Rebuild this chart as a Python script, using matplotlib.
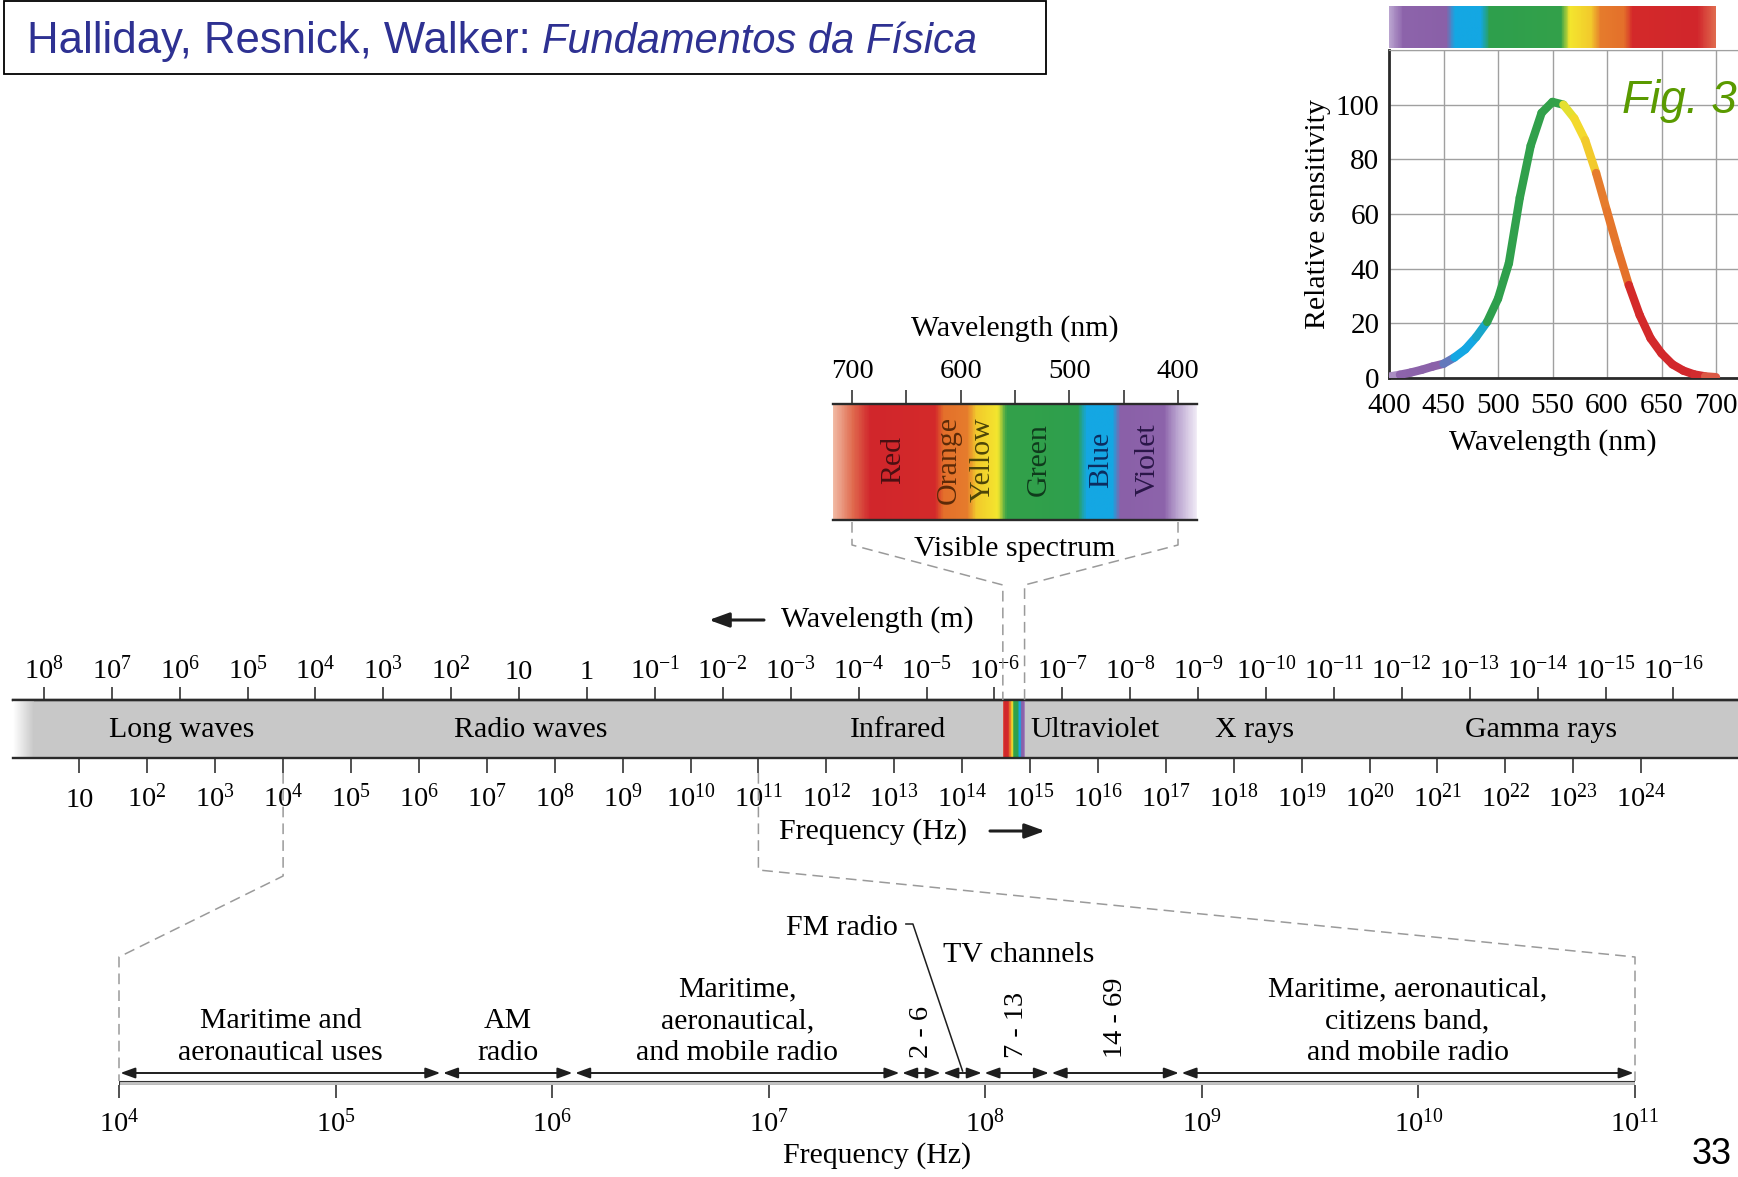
import numpy as np
import matplotlib
matplotlib.use("Agg")
import matplotlib.pyplot as plt
import matplotlib.transforms as mtransforms
from matplotlib.colors import LinearSegmentedColormap, Normalize, to_rgb
from matplotlib.collections import LineCollection
from matplotlib.patches import Rectangle

plt.rcParams['font.family'] = ['Liberation Serif', 'DejaVu Serif']
plt.rcParams['mathtext.fontset'] = 'custom'
plt.rcParams['mathtext.rm'] = 'Liberation Serif'
plt.rcParams['mathtext.it'] = 'Liberation Serif:italic'
plt.rcParams['mathtext.bf'] = 'Liberation Serif:bold'

# ---------------- data ----------------
LOG_C = np.log10(2.998e8)          # lambda = c / f

wl_exp = list(range(8, -17, -1))   # wavelength ticks, 10^n m
freq_exp = list(range(1, 25))      # frequency ticks, 10^n Hz

band_names = ['Long waves', 'Radio waves', 'Infrared', 'Ultraviolet', 'X rays', 'Gamma rays']
band_logf = [2.50, 7.65, 13.06, 15.96, 18.30, 22.53]
visible_logf = [14.60, 14.92]

# spectrum colours (nm -> colour)
spec_nm = [380, 400, 412, 452, 460, 484, 492, 558, 566, 586, 594, 616, 624, 684, 700, 720]
spec_colors = ['#f6f2fa', '#b9a3cf', '#8d64ab', '#8a60a8', '#14a7e3', '#14a7e3',
               '#2e9f4d', '#33a14a', '#f4e62e', '#f2c92c', '#e67c2d', '#e4702b',
               '#d42a2a', '#d1262c', '#e06a4e', '#f3c2ad']

vis_ticks = [700, 650, 600, 550, 500, 450, 400]
vis_ticklabels = ['700', '', '600', '', '500', '', '400']
vis_names = ['Red', 'Orange', 'Yellow', 'Green', 'Blue', 'Violet']
vis_name_nm = [662, 611, 580, 528, 471, 428]
vis_name_colors = ['#4a0f12', '#5c2a08', '#4d4508', '#0f3a1c', '#0c2c5e', '#2a1648']

sens_nm = list(range(400, 701, 10))
sens_val = [0.5, 1.2, 2.0, 3.0, 4.2, 5.2, 7.5, 10.5, 15, 20.5, 29, 42, 66, 85, 97, 101,
            100, 95, 87, 75, 61, 47, 34, 23, 14.5, 9, 5, 2.7, 1.3, 0.6, 0.3]
sens_xticks = [400, 450, 500, 550, 600, 650, 700]
sens_yticks = [0, 20, 40, 60, 80, 100, 120]
sens_yticklabels = ['0', '20', '40', '60', '80', '100', '']

radio_exp = list(range(4, 12))
radio_edges = [4.0, 5.49, 6.10, 7.61, 7.80, 7.99, 8.30, 8.90, 11.0]
radio_labels = [['Maritime and', 'aeronautical uses'], ['AM', 'radio'],
                ['Maritime,', 'aeronautical,', 'and mobile radio'], '2 - 6', 'FM radio',
                '7 - 13', '14 - 69', ['Maritime, aeronautical,', 'citizens band,', 'and mobile radio']]

# ---------------- figure ----------------
W, H = 1738, 1177
fig = plt.figure(figsize=(W / 100, H / 100), dpi=100)

INK = '#1e1e1e'
GRID = '#a0a0a0'
DASH = '#9a9a9a'
LAB = 21.5
TCK = 20.5

pos = [(n - spec_nm[0]) / (spec_nm[-1] - spec_nm[0]) for n in spec_nm]
spec_cmap = LinearSegmentedColormap.from_list('spec', list(zip(pos, spec_colors)))
spec_norm = Normalize(spec_nm[0], spec_nm[-1])


def spectrum(a, b, n=400):
    return spec_cmap(spec_norm(np.linspace(a, b, n)))[None, :, :]


def add_box(x0, y0, x1, y1, **kw):
    return fig.add_axes([x0 / W, 1 - y1 / H, (x1 - x0) / W, (y1 - y0) / H], **kw)


def p10(n):
    if n == 0:
        return '1'
    if n == 1:
        return '10'
    return r'$10^{%d}$' % n


ax_over = fig.add_axes([0, 0, 1, 1], zorder=10)
ax_over.set_xlim(0, W)
ax_over.set_ylim(H, 0)
ax_over.axis('off')

# ---- main band ----
def band_x(px):
    return 1 + (px - 79.4) / 67.9

ax_band = add_box(13, 700, 1760, 758)
g = np.array(to_rgb('#c8c8c8'))
fade = np.linspace(0, 1, 60)[:, None]
ax_band.imshow(((1 - fade) * np.ones(3) + fade * g)[None], extent=[band_x(13), band_x(34), 758, 700],
               aspect='auto', zorder=1)
ax_band.imshow(spectrum(700, 400), extent=[visible_logf[0], visible_logf[1], 758, 700],
               aspect='auto', zorder=2, interpolation='bilinear')
ax_band.set_xlim(band_x(13), band_x(1760))
ax_band.set_ylim(758, 700)
ax_band.set_facecolor('#c8c8c8')
for s in ['left', 'right']:
    ax_band.spines[s].set_visible(False)
for s in ['top', 'bottom']:
    ax_band.spines[s].set_linewidth(1.7)
    ax_band.spines[s].set_color('#2a2a2a')
ax_band.set_yticks([])
ax_band.set_xticks(freq_exp)
ax_band.tick_params(axis='x', direction='out', length=10.5, width=1.2, color='#333333', labelbottom=False)

sec = ax_band.secondary_xaxis('top', functions=(lambda f: LOG_C - f, lambda l: LOG_C - l))
sec.set_xticks(wl_exp)
sec.tick_params(direction='out', length=9.5, width=1.2, color='#333333', labeltop=False)
sec.spines['top'].set_linewidth(1.7)
sec.spines['top'].set_color('#2a2a2a')

for n in wl_exp:
    ax_band.text(LOG_C - n, 679, p10(n), ha='center', va='baseline', fontsize=TCK)
for n in freq_exp:
    ax_band.text(n, 807, p10(n), ha='center', va='baseline', fontsize=TCK)
for name, x in zip(band_names, band_logf):
    ax_band.text(x, 737, name, ha='center', va='baseline', fontsize=LAB, zorder=3)

arrow_kw = dict(arrowstyle='-|>,head_length=0.55,head_width=0.2', mutation_scale=22, lw=2.2,
                color=INK, shrinkA=0, shrinkB=0)
ax_band.annotate('', xy=(band_x(709), 620), xytext=(band_x(764), 620), arrowprops=arrow_kw,
                 annotation_clip=False)
ax_band.text(band_x(781), 627, 'Wavelength (m)', ha='left', va='baseline', fontsize=LAB)
ax_band.text(band_x(779), 839, 'Frequency (Hz)', ha='left', va='baseline', fontsize=LAB)
ax_band.annotate('', xy=(band_x(1045), 831), xytext=(band_x(990), 831), arrowprops=arrow_kw,
                 annotation_clip=False)

# ---- visible spectrum panel ----
def vis_x(px):
    return 700 - (px - 852) / 1.0867

ax_vis = add_box(833, 404, 1197, 520)
ax_vis.imshow(spectrum(vis_x(833), vis_x(1197)), extent=[vis_x(833), vis_x(1197), 520, 404],
              aspect='auto', interpolation='bilinear')
ax_vis.set_xlim(vis_x(833), vis_x(1197))
ax_vis.set_ylim(520, 404)
for s in ['left', 'right']:
    ax_vis.spines[s].set_visible(False)
for s in ['top', 'bottom']:
    ax_vis.spines[s].set_linewidth(1.7)
    ax_vis.spines[s].set_color('#2a2a2a')
ax_vis.xaxis.tick_top()
ax_vis.set_xticks(vis_ticks)
ax_vis.set_yticks([])
ax_vis.tick_params(axis='x', direction='out', length=10, width=1.2, color='#333333', labeltop=False)
for t, lab in zip(vis_ticks, vis_ticklabels):
    if lab:
        ax_vis.text(t, 378, lab, ha='center', va='baseline', fontsize=TCK)
ax_vis.text(550, 336, 'Wavelength (nm)', ha='center', va='baseline', fontsize=LAB)
ax_vis.text(550, 556, 'Visible spectrum', ha='center', va='baseline', fontsize=LAB)
for name, nm, c in zip(vis_names, vis_name_nm, vis_name_colors):
    ax_vis.text(nm, 460, name, rotation=90, ha='center', va='center', fontsize=LAB, color=c)

# ---- radio detail axis ----
def radio_x(px):
    return 4 + (px - 119) / 216.6

ax_radio = add_box(119, 880, 1635, 1085)
ax_radio.set_xlim(4, 11)
ax_radio.set_ylim(1085, 880)
ax_radio.patch.set_visible(False)
for s in ax_radio.spines.values():
    s.set_visible(False)
ax_radio.axhspan(1081, 1085, fc='#c4c4c4', ec='#333333', lw=0.8)
ax_radio.set_xticks(radio_exp)
ax_radio.set_yticks([])
ax_radio.tick_params(axis='x', direction='out', length=9, width=1.2, color='#333333', labelbottom=False)
for n in radio_exp:
    ax_radio.text(n, 1132, p10(n), ha='center', va='baseline', fontsize=TCK)
ax_radio.text(7.5, 1163, 'Frequency (Hz)', ha='center', va='baseline', fontsize=LAB)

seg_kw = dict(arrowstyle='<|-|>,head_length=0.55,head_width=0.2', mutation_scale=16, lw=1.4,
              color=INK, shrinkA=1, shrinkB=1)
for a, b, lab in zip(radio_edges[:-1], radio_edges[1:], radio_labels):
    ax_radio.annotate('', xy=(b, 1073), xytext=(a, 1073), arrowprops=seg_kw)
    mid = (a + b) / 2
    if isinstance(lab, list):
        for i, line in enumerate(reversed(lab)):
            ax_radio.text(mid, 1060 - 32 * i, line, ha='center', va='baseline', fontsize=LAB)
    elif lab == 'FM radio':
        ax_radio.text(radio_x(898), 935, lab, ha='right', va='baseline', fontsize=LAB)
        ax_radio.plot([radio_x(906), radio_x(913), mid], [924, 924, 1071], color=INK, lw=1.1,
                      clip_on=False)
    else:
        ax_radio.text(mid, 1058, lab, rotation=90, ha='center', va='bottom', fontsize=20.5)
ax_radio.text(radio_x(1019), 962, 'TV channels', ha='center', va='baseline', fontsize=LAB)

# ---- sensitivity inset ----
def sens_px(nm):
    return 1389 + (nm - 400) * 1.09

ax_sens = add_box(1389, 50, sens_px(750), 378)
ax_sens.set_xlim(400, 750)
ax_sens.set_ylim(0, 120)
ax_sens.set_xticks(sens_xticks)
ax_sens.set_yticks(sens_yticks, labels=sens_yticklabels)
ax_sens.grid(True, color=GRID, lw=1.0)
ax_sens.set_axisbelow(True)
ax_sens.tick_params(length=0, labelsize=21)
ax_sens.tick_params(axis='x', pad=11)
ax_sens.tick_params(axis='y', pad=7)
for s in ['left', 'bottom']:
    ax_sens.spines[s].set_linewidth(2)
    ax_sens.spines[s].set_color('#2a2a2a')
ax_sens.spines['top'].set_color(GRID)
ax_sens.spines['right'].set_visible(False)
pts = np.column_stack([sens_nm, sens_val])
segs = np.stack([pts[:-1], pts[1:]], axis=1)
mids = (pts[:-1, 0] + pts[1:, 0]) / 2
ax_sens.add_collection(LineCollection(segs, colors=spec_cmap(spec_norm(mids)), linewidths=6,
                                      capstyle='round', joinstyle='round', zorder=3))
ax_sens.set_ylabel('Relative sensitivity', fontsize=LAB, labelpad=3)
ax_sens.text(550, 450, 'Wavelength (nm)', ha='center', va='baseline', fontsize=LAB,
             transform=mtransforms.blended_transform_factory(ax_sens.transData, ax_over.transData))

ax_sbar = add_box(1389, 6, sens_px(700), 48)
ax_sbar.imshow(spectrum(400, 700), extent=[400, 700, 0, 1], aspect='auto', interpolation='bilinear')
ax_sbar.set_xlim(400, 700)
ax_sbar.axis('off')

# ---- connectors (dashed) ----
def fig_x(ax, x):
    return ax.transData.transform((x, ax.get_ylim()[0]))[0]

dash_kw = dict(color=DASH, lw=1.1, ls=(0, (7, 4)))
for nm, lf in [(700, visible_logf[0]), (400, visible_logf[1])]:
    xv, xb = fig_x(ax_vis, nm), fig_x(ax_band, lf)
    ax_over.plot([xv, xv, xb, xb], [522, 545, 585, 700], **dash_kw)
for lf, bend in [(4, 876), (11, 870)]:
    xb, xr = fig_x(ax_band, lf), fig_x(ax_radio, lf)
    ax_over.plot([xb, xb, xr, xr], [773, bend, 957, 1081], **dash_kw)

# ---- title box and page furniture ----
BLUE = '#2e3192'
ax_over.add_patch(Rectangle((4, 1), 1042, 73, fill=False, ec='black', lw=1.3))
t1 = ax_over.text(27, 53, 'Halliday, Resnick, Walker:', family='Liberation Sans', fontsize=31.5,
                  color=BLUE, va='baseline')
fig.canvas.draw()
bb = t1.get_window_extent()
ax_over.text(bb.x1 + 11, 53, 'Fundamentos da Física', family='Liberation Sans', style='italic',
             fontsize=30, color=BLUE, va='baseline')
ax_over.text(1622, 113, 'Fig. 3', family='Liberation Sans', style='italic', fontsize=33,
             color='#5a9a00', va='baseline')
ax_over.text(1692, 1164, '33', family='Liberation Sans', fontsize=26, color='black', va='baseline')

fig.savefig('out.png', dpi=100)
